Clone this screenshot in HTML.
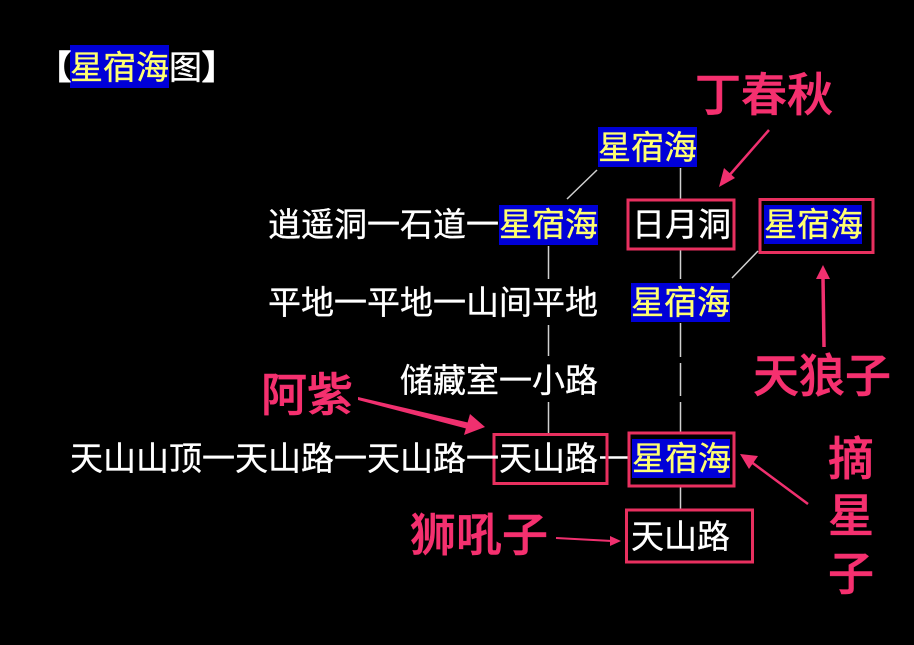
<!DOCTYPE html>
<html><head><meta charset="utf-8"><style>
html,body{margin:0;padding:0;background:#000;width:914px;height:645px;overflow:hidden}
svg{display:block}
text{font-family:"Liberation Sans","Noto Sans CJK SC",sans-serif}
.w{fill:#fff;font-size:33px;stroke:#fff;stroke-width:.35}
.t{fill:#fff;font-size:33px;stroke:#fff;stroke-width:1.6}
.y{fill:#ffff70;font-size:33px;stroke:#ffff70;stroke-width:.35}
.p{fill:#f5306f;font-size:46px;font-weight:500;stroke:#f5306f;stroke-width:.6}
.b{fill:#0000d8}
.r{fill:none;stroke:#e8305f;stroke-width:3}
.l{stroke:#d0d0d0;stroke-width:1.5;fill:none}
.a{stroke:#f0306f;fill:none}
.h{fill:#f0306f}
</style></head><body>
<svg width="914" height="645" viewBox="0 0 914 645" xmlns="http://www.w3.org/2000/svg">
<rect width="914" height="645" fill="#000"/>
<rect class="b" x="70" y="45" width="99" height="43"/>
<rect class="b" x="598" y="127" width="99" height="40"/>
<rect class="b" x="499" y="205" width="99" height="40"/>
<rect class="b" x="764" y="205" width="98" height="39"/>
<rect class="b" x="631" y="283" width="99" height="39"/>
<rect class="b" x="632" y="439" width="98" height="39"/>

<path class="l" d="M680.5 168V199M680.5 250V279M680.5 323V357M680.5 363V396M680.5 402V432M680.5 486V509M548.5 246V279M548.5 325V356M548.5 402V433M597 170L567 199M758 251L732 278"/>
<path d="M600 457.500H628" stroke="#fff" stroke-width="2.500" fill="none"/>

<rect class="r" x="628" y="200" width="106" height="49"/>
<rect class="r" x="760" y="199.500" width="113" height="53"/>
<rect class="r" x="494" y="434.500" width="113" height="49"/>
<rect class="r" x="629" y="433" width="105" height="53"/>
<rect class="r" x="626.500" y="510" width="126" height="52"/>

<text class="t" x="38" y="79">【</text>
<text class="y" x="70" y="79">星宿海</text>
<text class="w" x="169" y="79">图</text>
<text class="t" x="202" y="79">】</text>
<text class="y" x="598" y="159">星宿海</text>
<text class="w" x="268" y="236">逍遥洞一石道一</text>
<text class="y" x="499" y="236">星宿海</text>
<text class="w" x="632" y="236">日月洞</text>
<text class="y" x="764" y="236">星宿海</text>
<text class="w" x="268" y="314">平地一平地一山间平地</text>
<text class="y" x="631" y="314">星宿海</text>
<text class="w" x="400" y="392">储藏室一小路</text>
<text class="w" x="70" y="470">天山山顶一天山路一天山路一</text>
<text class="w" x="499" y="470">天山路</text>
<text class="y" x="632" y="470">星宿海</text>
<text class="w" x="631" y="548">天山路</text>

<text class="p" x="695" y="111">丁春秋</text>
<text class="p" x="753" y="392">天狼子</text>
<text class="p" x="261" y="411">阿紫</text>
<text class="p" x="410" y="551">狮吼子</text>
<text class="p" x="828" y="475">摘</text>
<text class="p" x="828" y="532">星</text>
<text class="p" x="828" y="590">子</text>

<path class="a" stroke-width="2.500" d="M769 130L727 178"/>
<polygon class="h" points="719,187 724,168 735,178"/>
<path class="a" stroke-width="3.500" d="M824 347L823 278"/>
<polygon class="h" points="823,265 830,279 816,279"/>
<polygon class="h" points="358,397 470,423 468,429 358,400"/>
<polygon class="h" points="485,427 464,435 470,414"/>
<path class="a" stroke-width="2.500" d="M808 504L750 461"/>
<polygon class="h" points="740,454 758,456 749,469"/>
<path class="a" stroke-width="2" d="M556 538L612 541"/>
<polygon class="h" points="621,541 610,536 610,546"/>
</svg>
</body></html>
